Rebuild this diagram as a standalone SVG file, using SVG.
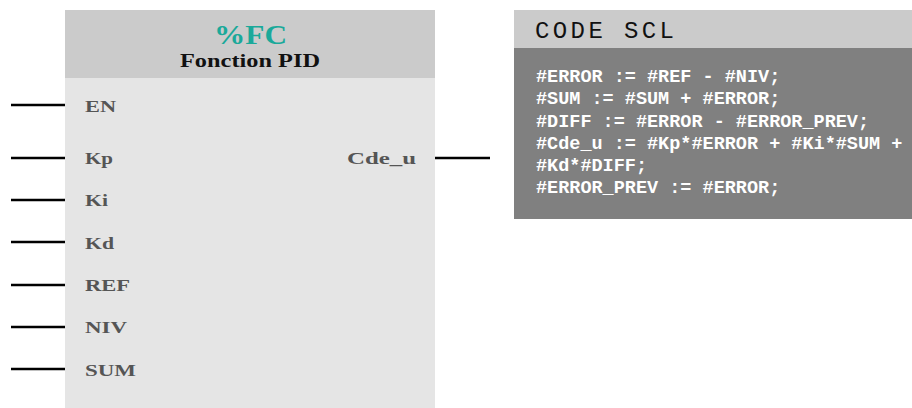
<svg xmlns="http://www.w3.org/2000/svg" width="912" height="408" viewBox="0 0 912 408">
<style>
.pin{font-family:"Liberation Serif","DejaVu Serif",serif;font-weight:bold;font-size:17px;fill:#555555}
.wire{stroke:#000;stroke-width:2.5;fill:none}
.code{font-family:"Liberation Mono","DejaVu Sans Mono",monospace;font-weight:bold;font-size:18.5px;fill:#ffffff}
</style>
<rect width="912" height="408" fill="#ffffff"/>
<g id="block">
<rect x="65" y="10" width="370" height="398" fill="#e5e5e5"/>
<rect x="65" y="10" width="370" height="68" fill="#cbcbcb"/>
<text x="214" y="44" font-family="Liberation Serif,DejaVu Serif,serif" font-weight="bold" font-size="27" fill="#1aa99a" textLength="73" lengthAdjust="spacingAndGlyphs">%FC</text>
<text x="180" y="67" font-family="Liberation Serif,DejaVu Serif,serif" font-weight="bold" font-size="18" fill="#111111" textLength="140" lengthAdjust="spacingAndGlyphs">Fonction PID</text>
<text class="pin" x="85" y="112" textLength="31" lengthAdjust="spacingAndGlyphs">EN</text>
<text class="pin" x="85" y="164" textLength="28" lengthAdjust="spacingAndGlyphs">Kp</text>
<text class="pin" x="85" y="206" textLength="23" lengthAdjust="spacingAndGlyphs">Ki</text>
<text class="pin" x="85" y="249" textLength="29" lengthAdjust="spacingAndGlyphs">Kd</text>
<text class="pin" x="85" y="291" textLength="45" lengthAdjust="spacingAndGlyphs">REF</text>
<text class="pin" x="85" y="333" textLength="42" lengthAdjust="spacingAndGlyphs">NIV</text>
<text class="pin" x="85" y="376" textLength="51" lengthAdjust="spacingAndGlyphs">SUM</text>
<text class="pin" x="347" y="164" textLength="69" lengthAdjust="spacingAndGlyphs">Cde_u</text>
</g>
<g id="code">
<rect x="514" y="10" width="398" height="38" fill="#cbcbcb"/>
<rect x="514" y="48" width="398" height="171" fill="#808080"/>
<text x="535" y="38" font-family="Liberation Mono,DejaVu Sans Mono,monospace" font-size="24" fill="#111111" textLength="139">CODE SCL</text>
<text class="code" x="536" y="82">#ERROR := #REF - #NIV;</text>
<text class="code" x="536" y="104">#SUM := #SUM + #ERROR;</text>
<text class="code" x="536" y="127">#DIFF := #ERROR - #ERROR_PREV;</text>
<text class="code" x="536" y="149">#Cde_u := #Kp*#ERROR + #Ki*#SUM +</text>
<text class="code" x="536" y="171">#Kd*#DIFF;</text>
<text class="code" x="536" y="193">#ERROR_PREV := #ERROR;</text>
</g>
<g id="connectors">
<line class="wire" x1="11" y1="105" x2="65" y2="105"/>
<line class="wire" x1="11" y1="158" x2="65" y2="158"/>
<line class="wire" x1="11" y1="200" x2="65" y2="200"/>
<line class="wire" x1="11" y1="242" x2="65" y2="242"/>
<line class="wire" x1="11" y1="285" x2="65" y2="285"/>
<line class="wire" x1="11" y1="327" x2="65" y2="327"/>
<line class="wire" x1="11" y1="369" x2="65" y2="369"/>
<line class="wire" x1="435" y1="158" x2="490" y2="158"/>
</g>
</svg>
